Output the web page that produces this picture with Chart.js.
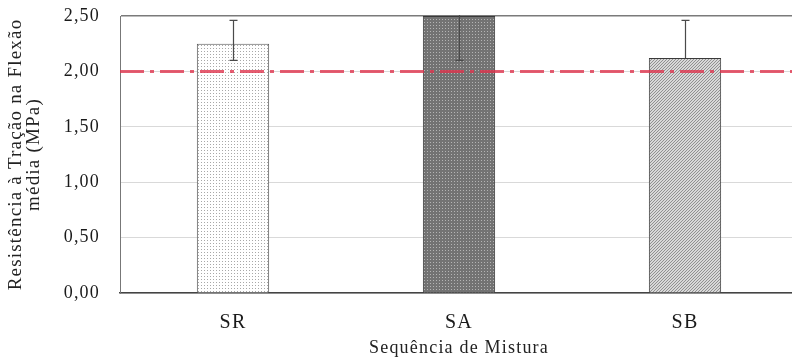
<!DOCTYPE html>
<html>
<head>
<meta charset="utf-8">
<script src="https://cdn.jsdelivr.net/npm/chart.js@4/dist/chart.umd.min.js"></script>
<style>
  html, body { margin: 0; padding: 0; background: #fff; overflow: hidden; }
  #wrap { position: relative; width: 798px; height: 363px; }
</style>
</head>
<body>
<div id="wrap"><canvas id="c"></canvas></div>
<script>
// Flexural tensile strength by mixing sequence
const categories = ['SR', 'SA', 'SB'];
const meanStrength = [2.25, 2.50, 2.12];     // MPa
const errPlus = [0.21, 0.40, 0.34];          // upper whisker length (MPa)
const errMinus = [0.15, 0.40, 0];            // lower whisker length (MPa)
const limitValue = 2.00;                     // reference strength (MPa)
const yTicks = [0, 0.5, 1.0, 1.5, 2.0, 2.5];

const SERIF = '"Liberation Serif", "Times New Roman", serif';
const LETTER_SPACING = '1.2px';

// Small tiled fills for the three bars
function makePattern(size, paint) {
  const c = document.createElement('canvas');
  c.width = size; c.height = size;
  const g = c.getContext('2d');
  paint(g, size);
  return g.createPattern(c, 'repeat');
}
const ctx = document.getElementById('c').getContext('2d');

const dotsLight = makePattern(3, (g) => {
  g.fillStyle = '#ffffff'; g.fillRect(0, 0, 3, 3);
  g.fillStyle = '#a8a8a8'; g.fillRect(0, 0, 1, 1);
});
const dotsDark = makePattern(3, (g) => {
  g.fillStyle = '#737373'; g.fillRect(0, 0, 3, 3);
  g.fillStyle = '#b4b4b4'; g.fillRect(1, 1, 1, 1);
});
const hatch = makePattern(3, (g) => {
  g.fillStyle = '#d8d8d8'; g.fillRect(0, 0, 3, 3);
  g.fillStyle = '#909090';
  g.fillRect(2, 0, 1, 1); g.fillRect(1, 1, 1, 1); g.fillRect(0, 2, 1, 1);
});

// Slightly open letter spacing for all chart text
const spacing = {
  id: 'spacing',
  beforeUpdate(chart) { chart.ctx.letterSpacing = LETTER_SPACING; },
  beforeDraw(chart) { chart.ctx.letterSpacing = LETTER_SPACING; }
};

// Reference line and error bars, drawn with the chart's own scales
const overlays = {
  id: 'overlays',
  afterDatasetsDraw(chart) {
    const { ctx, chartArea, scales: { x, y } } = chart;
    ctx.save();
    ctx.beginPath();
    ctx.rect(chartArea.left, chartArea.top - 1, chartArea.right - chartArea.left, chartArea.bottom - chartArea.top + 2);
    ctx.clip();

    // error bars
    ctx.strokeStyle = '#4a4a4a';
    ctx.lineWidth = 1.2;
    meanStrength.forEach((v, i) => {
      const px = Math.round(x.getPixelForValue(i)) + 0.5;
      const top = y.getPixelForValue(v + errPlus[i]);
      const bot = y.getPixelForValue(v - errMinus[i]);
      ctx.beginPath();
      ctx.moveTo(px, top); ctx.lineTo(px, bot);
      ctx.moveTo(px - 4, top); ctx.lineTo(px + 4, top);
      if (errMinus[i] > 0) { ctx.moveTo(px - 4, bot); ctx.lineTo(px + 4, bot); }
      ctx.stroke();
    });

    // dash-dot limit line
    const ly = y.getPixelForValue(limitValue);
    ctx.strokeStyle = 'rgba(222, 52, 78, 0.8)';
    ctx.lineWidth = 3;
    ctx.setLineDash([24, 6, 4, 6]);
    ctx.beginPath();
    ctx.moveTo(chartArea.left, ly);
    ctx.lineTo(chartArea.right, ly);
    ctx.stroke();
    ctx.restore();
  }
};

new Chart(ctx, {
  type: 'bar',
  data: {
    labels: categories,
    datasets: [{
      data: meanStrength,
      backgroundColor: [dotsLight, dotsDark, hatch],
      borderColor: ['#555555', '#3a3a3a', '#3a3a3a'],
      borderWidth: 1,
      barPercentage: 1,
      categoryPercentage: 0.32
    }]
  },
  options: {
    responsive: true,
    maintainAspectRatio: false,
    animation: false,
    devicePixelRatio: 1,
    layout: { padding: { top: 16, right: 0, left: 0, bottom: 0 } },
    plugins: { legend: { display: false }, tooltip: { enabled: false } },
    scales: {
      x: {
        grid: { display: false },
        border: { display: true, color: '#444444', width: 1.5 },
        ticks: { color: '#1a1a1a', font: { family: SERIF, size: 20 }, padding: 10 },
        title: {
          display: true, text: 'Sequência de Mistura', color: '#222222',
          font: { family: SERIF, size: 18 }, padding: { top: 0, bottom: 4 }
        },
        afterFit(s) { s.height = 70; s.paddingLeft = 0; s.paddingRight = 0; }
      },
      y: {
        min: 0, max: 2.5,
        afterBuildTicks(s) { s.ticks = yTicks.map(v => ({ value: v })); },
        grid: {
          drawTicks: false,
          color: (c) => (c.tick && c.tick.value === 2.5) ? '#7a7a7a' : '#d9d9d9',
          lineWidth: (c) => (c.tick && c.tick.value === 2.5) ? 1.5 : 1
        },
        border: { display: true, color: '#777777', width: 1 },
        ticks: {
          color: '#1a1a1a', font: { family: SERIF, size: 18 }, padding: 20,
          callback: (v) => Number(v).toFixed(2).replace('.', ',')
        },
        title: {
          display: true, text: ['Resistência à Tração na Flexão', 'média (MPa)'], color: '#222222',
          font: { family: SERIF, size: 19, lineHeight: 0.95 }, padding: { top: 7, bottom: 0 }
        },
        afterFit(s) { s.width = 120; s.paddingTop = 0; s.paddingBottom = 0; }
      }
    }
  },
  plugins: [spacing, overlays]
});
</script>
</body>
</html>
